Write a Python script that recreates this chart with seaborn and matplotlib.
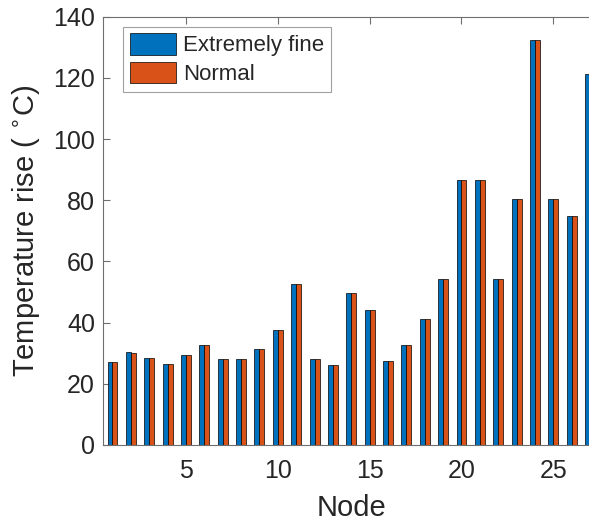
import numpy as np
import pandas as pd
import matplotlib
matplotlib.use("Agg")
import matplotlib.pyplot as plt
import seaborn as sns

# data
nodes = list(range(1, 28))
extremely_fine = [27.1, 30.3, 28.4, 26.4, 29.3, 32.6, 28.0, 28.0, 31.3, 37.6,
                  52.7, 28.0, 26.1, 49.6, 44.1, 27.5, 32.6, 41.3, 54.2, 86.5,
                  86.5, 54.2, 80.3, 132.5, 80.3, 74.9, 121.1]
normal = [27.1, 30.1, 28.4, 26.4, 29.3, 32.6, 28.0, 28.0, 31.3, 37.6,
          52.7, 28.0, 26.1, 49.6, 44.1, 27.5, 32.6, 41.3, 54.2, 86.5,
          86.5, 54.2, 80.3, 132.5, 80.3, 74.9, 121.1]
series_names = ["Extremely fine", "Normal"]
colors = ["#0072BD", "#D95319"]

df = pd.DataFrame({
    "Node": nodes * 2,
    "Temp": extremely_fine + normal,
    "Mesh": [series_names[0]] * len(nodes) + [series_names[1]] * len(nodes),
})

sns.set_style("white")
plt.rcParams["font.family"] = ["Liberation Sans", "DejaVu Sans"]

fig = plt.figure(figsize=(5.89, 5.24), dpi=100)
ax = fig.add_axes([0.1754, 0.1508, 0.842, 0.8174])

sns.barplot(data=df, x="Node", y="Temp", hue="Mesh", native_scale=True,
            palette=colors, saturation=1, width=0.54, gap=0, edgecolor="black",
            linewidth=0.5, errorbar=None, ax=ax)

ax.set_xlim(0.5, 27.5)
ax.set_ylim(0, 140)
ax.set_xticks([5, 10, 15, 20, 25])
ax.set_xticklabels(["5", "10", "15", "20", "25"])
ax.set_yticks(np.arange(0, 141, 20))

for s in ax.spines.values():
    s.set_color("#6e6e6e")
    s.set_linewidth(0.8)
ax.tick_params(direction="in", length=5, width=0.8, color="#6e6e6e",
               labelsize=18, labelcolor="#262626",
               bottom=True, left=True, top=True, right=True, pad=6)
ax.tick_params(axis="x", pad=10)

ax.set_xlabel("Node", fontsize=21, color="#262626", labelpad=8)
ax.set_ylabel(r"Temperature rise ( $^{\circ}$C)", fontsize=21, color="#262626", labelpad=8)

handles, labels = ax.get_legend_handles_labels()
leg = ax.legend(handles, labels, loc="upper left", bbox_to_anchor=(0.04, 0.977),
                borderaxespad=0, fontsize=16, handlelength=2.1, handleheight=1.1,
                handletextpad=0.3, labelspacing=0.25, borderpad=0.3,
                frameon=True, fancybox=False, edgecolor="#888888")
leg.get_frame().set_linewidth(0.8)

fig.savefig("out.png", dpi=100)
